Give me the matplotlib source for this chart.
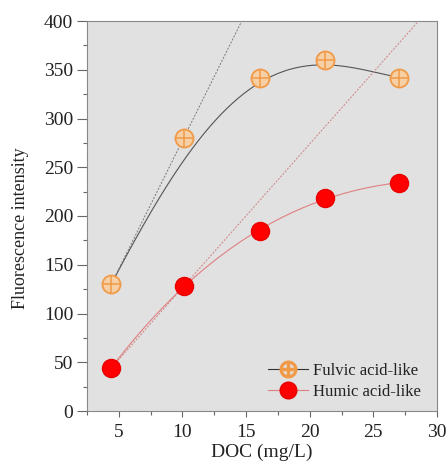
import numpy as np
import matplotlib
matplotlib.use("Agg")
import matplotlib.pyplot as plt
from matplotlib.ticker import MultipleLocator
from matplotlib.lines import Line2D

plt.rcParams['font.family'] = ['Liberation Serif', 'DejaVu Serif']

doc = [4.4, 10.1, 16.1, 21.2, 27.0]
fulvic = [130, 280, 342, 360, 342]
humic = [44, 128, 185, 218, 234]
# fitted trend curve values
fulvic_fit = [130, 257, 337, 355, 342]
humic_fit = [44, 128, 185, 218, 234]

fig = plt.figure(figsize=(4.48, 4.66), dpi=100)
ax = fig.add_axes([87/448, 1-411/466, (437-87)/448, (411-21)/466])
ax.set_facecolor('#e1e1e1')

x = np.array(doc)
xs = np.linspace(x[0], x[-1], 200)

pf = np.polyfit(x, fulvic_fit, 4)
ax.plot(xs, np.polyval(pf, xs), color='#555555', lw=0.8, zorder=2)
ph = np.polyfit(x, humic_fit, 3)
ax.plot(xs, np.polyval(ph, xs), color='#e08080', lw=0.8, zorder=2)

# initial linear trends through first two points
xl = np.linspace(x[0], 32, 50)
sf = (fulvic[1]-fulvic[0])/(doc[1]-doc[0])
ax.plot(xl, fulvic[0] + sf*(xl-doc[0]), color='#777777', lw=0.7, ls=(0, (2, 1.5)), zorder=2)
sh = (humic[1]-humic[0])/(doc[1]-doc[0])
ax.plot(xl, humic[0] + sh*(xl-doc[0]), color='#d08080', lw=0.7, ls=(0, (2, 1.5)), zorder=2)

# markers
ax.plot(doc, fulvic, ls='none', marker='o', ms=13, mfc='#f6cfa4', mec='#f09a48', mew=1.3, zorder=3)
ax.plot(doc, fulvic, ls='none', marker='+', ms=13, mec='#f09a48', mew=1.1, zorder=4)
ax.plot(doc, humic, ls='none', marker='o', ms=13, mfc='#ff0000', mec='#e80000', zorder=3)

ax.set_xlim(2.5, 30)
ax.set_ylim(0, 400)
ax.xaxis.set_major_locator(MultipleLocator(5))
ax.xaxis.set_minor_locator(MultipleLocator(2.5))
ax.yaxis.set_major_locator(MultipleLocator(50))
ax.yaxis.set_minor_locator(MultipleLocator(25))
ax.set_xticks([5, 10, 15, 20, 25, 30])
ax.tick_params(which='major', direction='out', width=0.8, color='#666666',
               labelsize=14, labelcolor='#222222')
ax.tick_params(axis='x', which='major', length=4.5, pad=5)
ax.tick_params(axis='y', which='major', length=7, pad=3)
ax.tick_params(which='minor', direction='out', length=3, width=0.8, color='#666666')
for s in ax.spines.values():
    s.set_color('#888888')
    s.set_linewidth(0.8)

ax.set_xlabel('DOC (mg/L)', fontsize=14, labelpad=2, color='#222222')
ax.set_ylabel('Fluorescence intensity', fontsize=13, color='#222222')
ax.yaxis.set_label_coords(-0.165, 0.47)

h1 = Line2D([], [], color='#333333', lw=0.8, marker='$\\oplus$', ms=12, mfc='#f09a48', mec='#f09a48')
h2 = Line2D([], [], color='#e08080', lw=0.8, marker='o', ms=12, mfc='#ff0000', mec='#e80000')
leg = ax.legend([h1, h2], ['Fulvic acid-like', 'Humic acid-like'], loc='lower right', frameon=False,
                fontsize=12, handlelength=2.4, handletextpad=0.3, borderaxespad=0.25,
                labelspacing=0.3, bbox_to_anchor=(0.985, 0.0))
for t in leg.get_texts():
    t.set_color('#222222')

fig.savefig('out.png', dpi=100)
